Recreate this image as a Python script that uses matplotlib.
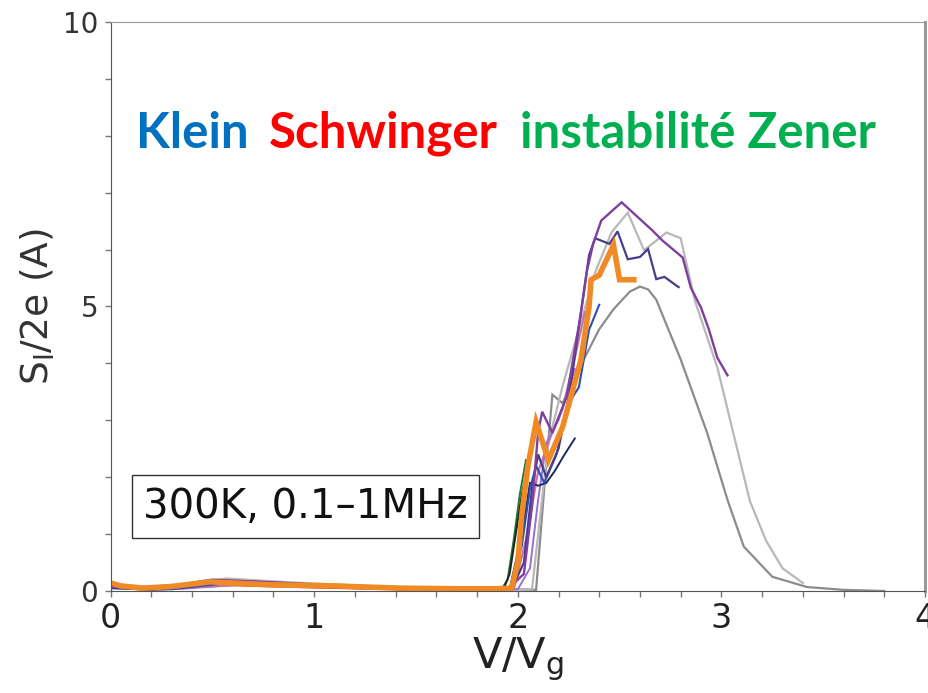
import numpy as np
import matplotlib.pyplot as plt

# Noise spectral density S_I/2e versus bias V/V_g, several samples, 300 K

orange_v = [0.0, 0.05, 0.16, 0.3, 0.49, 0.77, 1.09, 1.42, 1.7, 1.9, 1.97, 2.0, 2.02, 2.05, 2.09,
            2.15, 2.22, 2.31, 2.35, 2.36, 2.40, 2.47, 2.50, 2.57]
orange_s = [0.14, 0.09, 0.05, 0.08, 0.16, 0.11, 0.09, 0.05, 0.04, 0.04, 0.05, 0.5, 1.35, 2.2, 2.97,
            2.3, 2.88, 4.06, 4.99, 5.47, 5.55, 6.08, 5.47, 5.47]

purple_v = [0.0, 0.2, 0.5, 0.8, 1.2, 1.6, 1.95, 2.03, 2.07, 2.10, 2.12, 2.17, 2.24, 2.31, 2.34,
            2.37, 2.41, 2.51, 2.66, 2.71, 2.81, 2.85, 2.90, 2.94, 2.98, 3.03]
purple_s = [0.08, 0.03, 0.2, 0.15, 0.08, 0.04, 0.03, 0.3, 1.5, 2.8, 3.15, 2.78, 3.41, 4.88, 5.63,
            6.1, 6.51, 6.83, 6.34, 6.16, 5.86, 5.33, 4.98, 4.58, 4.1, 3.79]

navy_v = [0.0, 0.2, 0.55, 0.9, 1.3, 1.7, 1.97, 2.03, 2.07, 2.10, 2.14, 2.20, 2.26, 2.31, 2.35,
          2.38, 2.45, 2.49, 2.54, 2.60, 2.64, 2.68, 2.72, 2.79]
navy_s = [0.06, 0.02, 0.17, 0.12, 0.07, 0.04, 0.03, 0.5, 1.8, 2.4, 2.0, 2.5, 3.6, 4.9, 5.9,
          6.2, 6.1, 6.32, 5.83, 5.87, 6.01, 5.48, 5.52, 5.34]

ltgray_v = [0.0, 0.2, 0.57, 0.9, 1.3, 1.7, 2.0, 2.07, 2.15, 2.22, 2.30, 2.38, 2.46, 2.54, 2.62,
            2.66, 2.73, 2.80, 2.87, 2.98, 3.08, 3.14, 3.22, 3.30, 3.40]
ltgray_s = [0.1, 0.04, 0.22, 0.15, 0.08, 0.05, 0.03, 0.03, 2.6, 3.6, 4.6, 5.6, 6.3, 6.65, 5.99,
            6.1, 6.3, 6.2, 5.1, 3.93, 2.46, 1.58, 0.88, 0.4, 0.14]

dkgray_v = [0.0, 0.25, 0.6, 1.0, 1.5, 2.0, 2.09, 2.13, 2.17, 2.22, 2.30, 2.40, 2.47, 2.55, 2.60,
            2.64, 2.68, 2.80, 2.93, 3.03, 3.11, 3.25, 3.42, 3.6, 3.8]
dkgray_s = [0.05, 0.02, 0.18, 0.12, 0.05, 0.03, 0.02, 1.8, 3.45, 3.3, 3.9, 4.6, 4.95, 5.26, 5.35,
            5.3, 5.12, 4.07, 2.78, 1.6, 0.78, 0.25, 0.07, 0.02, 0.0]

blue_v = [0.0, 0.3, 0.6, 1.0, 1.5, 1.96, 2.02, 2.06, 2.09, 2.13, 2.19, 2.25, 2.30, 2.35, 2.40]
blue_s = [0.05, 0.03, 0.15, 0.1, 0.05, 0.03, 0.8, 1.8, 2.2, 1.9, 2.4, 3.3, 3.58, 4.59, 5.03]

dknavy_v = [1.5, 1.96, 2.02, 2.06, 2.10, 2.14, 2.18, 2.23, 2.28]
dknavy_s = [0.03, 0.03, 1.0, 1.9, 1.85, 1.9, 2.1, 2.4, 2.68]

violet_v = [0.0, 0.4, 0.7, 1.1, 1.6, 2.0, 2.06, 2.10, 2.14, 2.20, 2.28]
violet_s = [0.07, 0.08, 0.17, 0.1, 0.03, 0.03, 0.4, 1.6, 2.6, 3.0, 3.9]

mauve_v = [0.0, 0.35, 0.8, 1.3, 1.8, 1.98, 2.04, 2.10, 2.16, 2.22, 2.28, 2.33]
mauve_s = [0.1, 0.04, 0.15, 0.06, 0.03, 0.03, 0.9, 2.1, 2.7, 3.2, 4.1, 4.9]

green_v = [1.2, 1.6, 1.92, 1.95, 1.98, 2.01, 2.04]
green_s = [0.05, 0.03, 0.03, 0.2, 0.9, 1.7, 2.3]

black_v = [1.4, 1.93, 1.96, 1.99, 2.02, 2.05]
black_s = [0.03, 0.03, 0.3, 1.0, 1.7, 2.2]

red_v = [0.2, 0.6, 1.0, 1.4, 1.8, 1.97, 2.0, 2.03, 2.06]
red_s = [0.03, 0.1, 0.06, 0.03, 0.02, 0.03, 0.6, 1.5, 2.3]

traces = [
    (dkgray_v, dkgray_s, '#8c8c8c', 1.6),
    (ltgray_v, ltgray_s, '#b8b8b8', 1.6),
    (green_v, green_s, '#1f7a3a', 1.4),
    (black_v, black_s, '#222222', 1.4),
    (red_v, red_s, '#d03030', 1.4),
    (mauve_v, mauve_s, '#c078b0', 1.6),
    (violet_v, violet_s, '#9a6fd0', 1.4),
    (dknavy_v, dknavy_s, '#1e2a5e', 1.4),
    (blue_v, blue_s, '#2a4fb5', 1.5),
    (navy_v, navy_s, '#4a3c8c', 1.6),
    (purple_v, purple_s, '#7f3f9e', 1.7),
    (orange_v, orange_s, '#f08a24', 4.0),
]

fig = plt.figure(figsize=(9.29, 6.93), dpi=100)
ax = fig.add_axes([0.119, 0.1472, 0.8767, 0.8211])

for v, s, c, lw in traces:
    ax.plot(v, s, color=c, lw=lw, solid_joinstyle='miter')

ax.set_xlim(0, 4)
ax.set_ylim(0, 10)

ax.set_xticks([0, 1, 2, 3, 4])
ax.set_xticks(np.arange(0, 4.01, 0.2), minor=True)
ax.set_yticks([0, 5, 10])
ax.set_yticks(range(0, 11), minor=True)
ax.tick_params(axis='both', which='both', direction='out', length=4, width=1, color='#777777')
ax.tick_params(axis='x', which='major', labelsize=24, pad=4, labelcolor='#222222')
ax.tick_params(axis='y', which='major', labelsize=20, pad=5, labelcolor='#333333')

ax.spines['left'].set_color('#555555')
ax.spines['bottom'].set_color('#555555')
ax.spines['top'].set_color('#999999')
ax.spines['top'].set_linewidth(0.8)
ax.spines['right'].set_color('#999999')
ax.spines['right'].set_linewidth(2.2)

ax.set_xlabel(r'V/V$_\mathregular{g}$', fontsize=31, color='#222222', labelpad=0)
ax.set_ylabel(r'S$_\mathregular{I}$/2e (A)', fontsize=27, color='#333333', labelpad=4)

# mechanism labels
words = [('Klein', '#0070c0', 0.031), ('Schwinger', '#ff0000', 0.194),
         ('instabilité Zener', '#00b050', 0.503)]
for w, c, xf in words:
    ax.text(xf, 0.779, w, transform=ax.transAxes, color=c, fontsize=35.5,
            fontweight='bold', family='Lato', va='baseline', ha='left')

ax.text(0.239, 0.148, '300K, 0.1–1MHz', transform=ax.transAxes, fontsize=29,
        color='#111111', ha='center', va='center',
        bbox=dict(boxstyle='square,pad=0.28', fc='white', ec='#333333', lw=1))

fig.savefig('out.png', dpi=100)
